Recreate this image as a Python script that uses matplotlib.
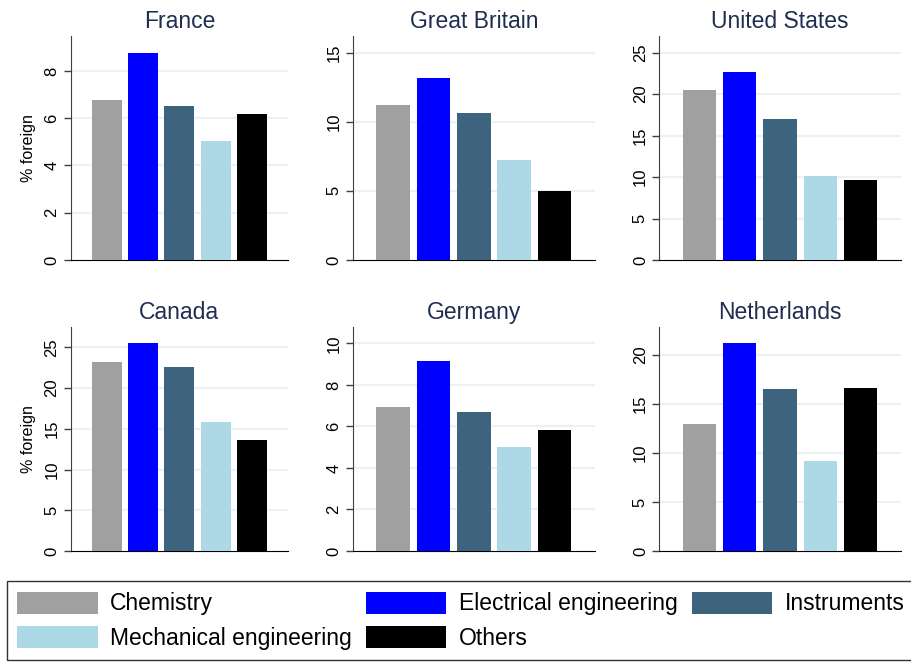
import matplotlib.pyplot as plt
from matplotlib.patches import Patch

plt.rcParams['font.family'] = ['Liberation Sans', 'DejaVu Sans']

# Share of foreign patents by field, per country
fields = ['Chemistry', 'Electrical engineering', 'Instruments',
          'Mechanical engineering', 'Others']
colors = ['#a0a0a0', '#0000ff', '#3e637e', '#add8e6', '#000000']

countries = ['France', 'Great Britain', 'United States',
             'Canada', 'Germany', 'Netherlands']
france = [6.77, 8.77, 6.53, 5.04, 6.18]
great_britain = [11.21, 13.19, 10.61, 7.23, 4.97]
united_states = [20.5, 22.7, 16.96, 10.17, 9.6]
canada = [23.23, 25.49, 22.58, 15.85, 13.63]
germany = [6.92, 9.16, 6.70, 5.02, 5.83]
netherlands = [12.95, 21.16, 16.52, 9.17, 16.63]
values = [france, great_britain, united_states, canada, germany, netherlands]

yticks = [[0, 2, 4, 6, 8], [0, 5, 10, 15], [0, 5, 10, 15, 20, 25],
          [0, 5, 10, 15, 20, 25], [0, 2, 4, 6, 8, 10], [0, 5, 10, 15, 20]]
ytops = [9.48, 16.2, 27.0, 27.5, 10.79, 22.83]

W, H = 912, 662
fig = plt.figure(figsize=(W / 100, H / 100), dpi=100)

# panel boxes in pixels: left, right, top, bottom
cols = [(70.7, 288), (352.7, 595), (659, 901)]
rows = [(36, 260), (327, 551)]

for k, (name, vals) in enumerate(zip(countries, values)):
    r, c = divmod(k, 3)
    l, rt = cols[c]
    t, b = rows[r]
    ax = fig.add_axes([l / W, (H - b) / H, (rt - l) / W, (b - t) / H])
    x = list(range(len(vals)))
    ax.bar(x, vals, width=0.83, color=colors, zorder=3)
    ax.set_xlim(-1.0, 5.0)
    ax.set_ylim(0, ytops[k])
    ax.set_yticks(yticks[k])
    ax.set_xticks([])
    for yv in yticks[k][1:]:
        ax.axhline(yv, color='#eaf2f3', lw=1.6, zorder=1)
    ax.tick_params(axis='y', labelrotation=90, labelsize=12, length=5,
                   width=1, color='#404040', pad=3)
    for lab in ax.get_yticklabels():
        lab.set_va('center')
    ax.spines['top'].set_visible(False)
    ax.spines['right'].set_visible(False)
    ax.spines['left'].set_color('#404040')
    ax.spines['bottom'].set_color('black')
    ax.set_title(name, fontsize=16.5, color='#1f2d50', pad=6)
    if c == 0:
        ax.set_ylabel('% foreign', fontsize=11.5, labelpad=6)

# legend in row-major order across three columns
order = [0, 3, 1, 4, 2]
handles = [Patch(facecolor=colors[i], edgecolor='none') for i in order]
labels = [fields[i] for i in order]
leg = fig.legend(handles, labels, ncol=3, loc='lower left',
                 bbox_to_anchor=(7 / W, 2 / H), borderaxespad=0,
                 fontsize=16.5, handlelength=3.5, handleheight=1.12,
                 handletextpad=0.55, columnspacing=0.62, labelspacing=0.45,
                 borderpad=0.45, frameon=True, fancybox=False)
leg.get_frame().set_edgecolor('black')
leg.get_frame().set_linewidth(1.0)

fig.savefig('out.png', dpi=100)
